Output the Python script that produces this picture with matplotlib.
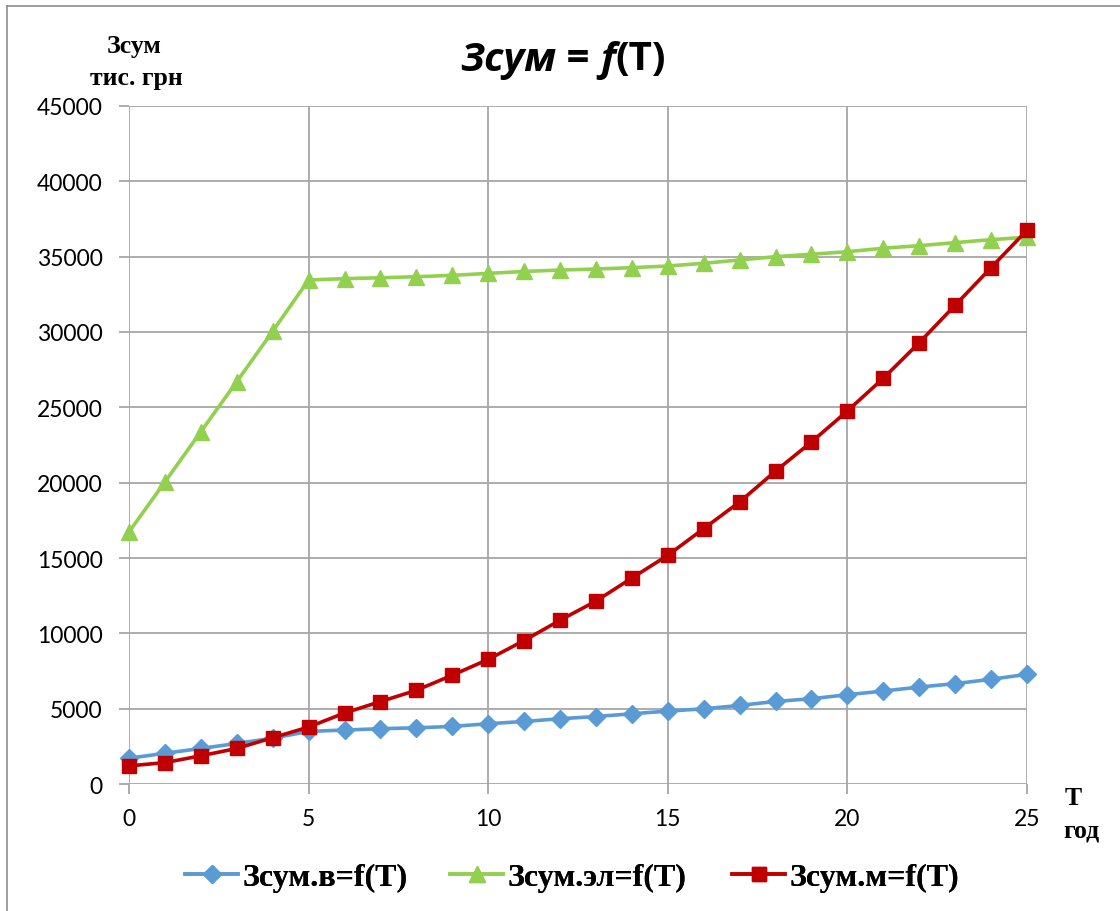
import matplotlib
matplotlib.use("Agg")
import matplotlib.pyplot as plt
from matplotlib.lines import Line2D

T = list(range(26))
z_v = [1710, 2040, 2360, 2690, 3040, 3490, 3580, 3670, 3730, 3820, 4000,
       4150, 4330, 4480, 4660, 4840, 4990, 5215, 5480, 5660, 5925, 6170,
       6435, 6660, 6950, 7280]
z_el = [16730, 20050, 23380, 26700, 30050, 33450, 33540, 33600, 33670, 33760,
        33890, 34020, 34110, 34180, 34270, 34380, 34560, 34780, 35000, 35160,
        35330, 35560, 35730, 35930, 36130, 36290]
z_m = [1200, 1420, 1870, 2360, 3070, 3780, 4710, 5470, 6220, 7220, 8270,
       9520, 10870, 12140, 13670, 15180, 16950, 18720, 20770, 22700, 24760,
       26930, 29290, 31780, 34270, 36760]

labels = ["Зсум.в=f(T)", "Зсум.эл=f(T)", "Зсум.м=f(T)"]
xticks = [0, 5, 10, 15, 20, 25]
yticks = list(range(0, 45001, 5000))

W, H = 1120, 912
fig = plt.figure(figsize=(W / 100, H / 100), dpi=100)
ax = fig.add_axes([129 / W, 1 - 785 / H, (1027 - 129) / W, (785 - 107) / H])

blue, green, red = "#5B9BD5", "#92D050", "#C00000"
l1, = ax.plot(T, z_v, color=blue, lw=2.6, marker="D", ms=9.5, label=labels[0],
              zorder=3, clip_on=False)
l2, = ax.plot(T, z_el, color=green, lw=2.6, marker="^", ms=11, label=labels[1],
              zorder=3, clip_on=False)
l3, = ax.plot(T, z_m, color=red, lw=2.6, marker="s", ms=10, label=labels[2],
              zorder=4, clip_on=False)

ax.set_xlim(0, 25)
ax.set_ylim(0, 45000)
ax.set_xticks(xticks)
ax.set_yticks(yticks)
ax.grid(True, color="#a6a6a6", lw=1.3)
ax.set_axisbelow(True)
for s in ax.spines.values():
    s.set_visible(False)
ax.tick_params(axis="both", length=7, width=1.3, color="#a6a6a6")
ax.tick_params(axis="y", pad=12)
ax.tick_params(axis="x", pad=10)
for lab in ax.get_xticklabels() + ax.get_yticklabels():
    lab.set_fontfamily(["Lato", "Open Sans"])
    lab.set_fontsize(16.5)

serif = "Liberation Serif"
lab_kw = dict(ha="center", va="center", fontfamily=serif, fontweight="bold",
              fontsize=18.5)
fig.text(134 / W, 1 - 47 / H, "Зсум", **lab_kw)
fig.text(136 / W, 1 - 79 / H, "тис. грн", **lab_kw)
fig.text(1073 / W, 1 - 799 / H, "Т", **lab_kw)
fig.text(1081 / W, 1 - 831 / H, "год", **lab_kw)

# Title from pieces
pieces = [("Зсум", "italic"), (" = ", "normal"), ("f", "italic"), ("(T)", "normal")]
fig.canvas.draw()
renderer = fig.canvas.get_renderer()
tobjs = []
for s, st in pieces:
    t = fig.text(0, 1 - 60 / H, s, ha="left", va="center", fontsize=29,
                 fontweight="bold", fontstyle=st, fontfamily=["Open Sans"])
    tobjs.append(t)
widths = [t.get_window_extent(renderer).width for t in tobjs]
total = sum(widths)
x = 563 - total / 2
for t, w in zip(tobjs, widths):
    t.set_x(x / W)
    x += w

# outer border (top and left visible)
fig.add_artist(Line2D([7 / W, 1], [1 - 7 / H, 1 - 7 / H], color="#8c8c8c", lw=1.2,
                      transform=fig.transFigure))
fig.add_artist(Line2D([7 / W, 7 / W], [0, 1 - 7 / H], color="#8c8c8c", lw=1.2,
                      transform=fig.transFigure))

# legend entries, laid out like the reference
leg_x = [185, 450, 732]
for handle, lx in zip([l1, l2, l3], leg_x):
    lg = fig.legend([handle], [handle.get_label()], loc="center left",
                    bbox_to_anchor=(lx / W, 1 - 878 / H), frameon=False,
                    handlelength=1.66, handletextpad=0.15, borderpad=0,
                    borderaxespad=0,
                    prop={"family": serif, "weight": "bold", "size": 23})
    fig.add_artist(lg)

fig.savefig("out.png", dpi=100)
